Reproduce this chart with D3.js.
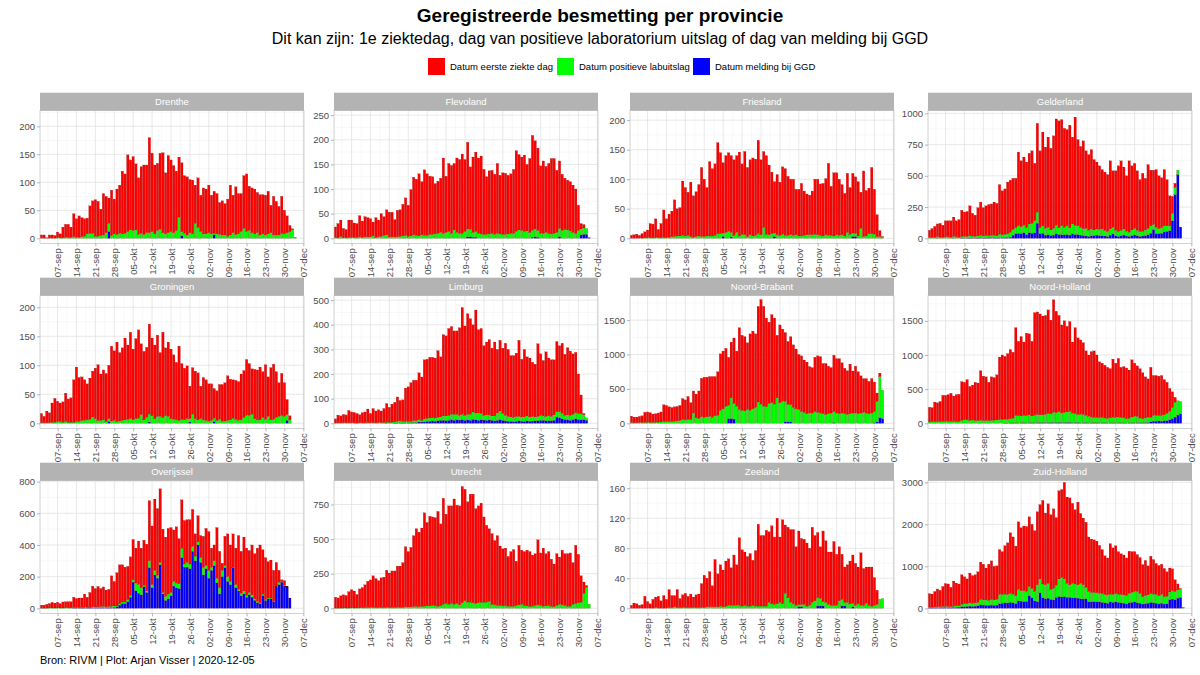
<!DOCTYPE html>
<html>
<head>
<meta charset="utf-8">
<script src="https://cdn.jsdelivr.net/npm/d3@7"></script>
<style>
  body { margin: 0; background: #fff; }
  text { font-family: "Liberation Sans", Arial, sans-serif; }
</style>
</head>
<body>
<svg id="grafiek" width="1200" height="675"></svg>
<script>
// Provincies in volgorde van de facetten
const provincies = ['Drenthe', 'Flevoland', 'Friesland', 'Gelderland', 'Groningen', 'Limburg',
  'Noord-Brabant', 'Noord-Holland', 'Overijssel', 'Utrecht', 'Zeeland', 'Zuid-Holland'];

// Legenda
const reeksNamen = ['Datum eerste ziekte dag', 'Datum positieve labuitslag', 'Datum melding bij GGD'];

// Y-as per provincie: bovenkant van de schaal en stapgrootte van de ticks
const yBoven = [228, 259, 216, 1021, 220, 518, 1855, 1868, 806, 922, 170, 3040];
const yStap = [50, 50, 50, 250, 50, 100, 500, 500, 200, 250, 40, 1000];

// Dagelijkse aantallen 1 sep t/m 4 dec 2020 (rood = eerste ziektedag, groen = labuitslag, blauw = melding)
const drentheRood = [6,6,1,6,6,5,10, 7,19,23,23,18,41,33, 38,34,31,28,49,58,65, 62,47,74,65,45,81,62, 81,86,112,106,137,125,132, 118,101,119,124,121,170,140, 123,120,136,143,109,138,128, 120,106,107,123,103,104,95, 96,68,88,65,82,80,85, 69,75,72,57,61,56,66, 89,67,85,72,68,94,103, 79,80,80,72,72,70,71, 76,49,69,60,51,66,42, 30,11,2,0];
const drentheGroen = [0,0,0,0,0,0,1, 1,1,2,2,2,3,2, 2,3,4,8,9,9,4, 4,5,6,10,15,5,8, 7,9,8,9,12,15,14, 15,7,9,7,10,10,12, 8,14,16,10,8,10,12, 10,14,38,8,9,6,10, 8,27,20,12,8,8,10, 8,3,8,7,6,6,4, 6,10,7,8,12,18,12, 14,10,8,10,6,8,6, 8,10,6,6,6,9,8, 10,12,15,2];
const drentheBlauw = [0,0,0,0,0,0,0, 0,0,0,0,0,0,0, 0,0,0,0,0,0,0, 0,0,0,0,12,0,0, 0,0,0,0,0,0,0, 0,0,0,0,0,0,0, 0,0,0,0,0,0,0, 0,0,0,4,0,0,0, 0,0,0,0,0,0,0, 0,6,0,0,0,0,0, 0,0,0,0,0,0,0, 0,0,0,0,0,0,0, 0,0,0,0,0,0,0, 0,0,0,0];

const flevolandRood = [21,29,33,19,17,35,35, 29,28,43,33,41,39,37, 28,40,34,46,38,51,50, 50,35,54,54,64,76,63, 94,117,114,126,108,133,125, 118,117,102,106,110,153,114, 138,138,135,151,150,161,146, 176,127,153,161,153,158,132, 117,128,128,122,142,119,125, 124,119,121,130,164,153,149, 155,135,150,193,179,167,137, 147,134,142,153,152,126,137, 114,104,101,100,96,90,51, 11,7,0,0];
const flevolandGroen = [2,1,4,1,1,2,2, 2,2,3,2,3,3,3, 5,2,3,4,6,7,3, 3,3,3,4,5,6,4, 5,7,6,5,7,6,6, 8,8,9,10,12,10,12, 14,10,17,12,10,10,14, 16,15,10,12,10,9,8, 8,9,10,8,10,9,8, 8,9,10,10,14,17,16, 14,15,12,14,16,14,10, 10,12,10,9,10,12,17, 16,18,17,15,12,10,16, 12,13,12,1];
const flevolandBlauw = [0,0,0,0,0,0,0, 0,0,0,0,0,0,0, 0,0,0,0,0,0,0, 0,0,0,0,0,0,0, 0,0,0,0,0,0,0, 0,0,0,0,0,0,0, 0,0,0,0,0,0,0, 3,3,2,2,0,0,0, 0,0,0,0,0,0,0, 0,0,0,0,0,0,0, 0,0,0,2,3,2,0, 0,0,0,0,0,0,3, 0,0,0,0,0,0,0, 7,8,8,1];

const frieslandRood = [5,6,7,5,8,10,13, 24,23,32,14,24,46,32, 39,43,62,46,48,92,82, 73,92,70,76,87,117,97, 82,126,114,121,154,137,119, 130,133,130,128,130,142,119, 141,117,127,132,129,158,127, 129,133,118,104,87,102,90, 114,113,100,94,95,77,79, 89,75,69,67,74,93,94, 87,89,95,122,83,107,105, 95,85,72,100,79,101,96, 92,61,111,77,77,112,76, 37,10,1,0];
const frieslandGroen = [0,0,0,0,0,1,1, 1,1,1,1,1,2,1, 2,3,3,4,4,5,4, 5,3,2,3,4,3,3, 4,4,4,5,8,8,6, 10,12,8,5,10,4,7, 6,3,6,4,5,8,6, 18,7,6,8,6,6,5, 7,5,5,6,5,6,4, 4,5,6,6,6,7,6, 5,4,6,5,5,4,6, 5,6,4,10,7,6,5, 4,17,3,4,8,8,7, 3,3,2,0];
const frieslandBlauw = [0,0,0,0,0,0,0, 0,0,0,0,0,0,0, 0,0,0,0,0,0,0, 0,0,0,0,0,0,0, 0,0,0,0,0,0,3, 0,0,2,0,0,0,0, 0,0,0,0,0,0,0, 0,0,0,0,3,0,0, 0,0,0,0,0,0,0, 0,0,0,0,0,0,0, 0,0,0,0,0,0,0, 0,0,0,0,0,3,3, 0,0,0,0,0,0,0, 0,0,0,0];

const gelderlandRood = [55,70,85,102,110,95,128, 128,130,154,128,140,208,195, 199,240,182,170,225,267,225, 238,249,252,265,260,396,352, 362,414,417,410,395,590,527, 545,525,565,580,460,710,615, 750,650,720,653,740,850,855, 850,792,770,820,695,865,690, 650,703,622,605,635,563,535, 508,475,467,455,545,450,475, 525,555,495,442,570,513,522, 475,415,462,413,512,445,435, 460,422,400,450,370,240,135, 30,0,0,0];
const gelderlandGroen = [10,8,10,12,10,10,12, 12,10,15,12,10,15,14, 15,18,16,14,18,20,18, 20,18,20,22,18,30,25, 28,30,40,45,50,60,55, 60,55,70,80,95,90,50, 60,55,60,45,55,70,55, 70,60,70,60,80,75,70, 60,55,60,50,55,45,50, 50,55,45,40,50,55,45, 40,45,50,40,35,45,50, 45,40,40,45,50,60,40, 55,40,45,50,45,40,60, 60,35,0,0];
const gelderlandBlauw = [0,0,0,1,0,0,0, 0,0,1,0,0,2,1, 1,2,2,1,2,3,2, 2,3,3,3,2,4,3, 5,6,8,25,35,40,38, 45,30,45,40,45,120,35, 40,25,30,22,25,35,30, 30,28,30,25,35,30,30, 25,22,18,15,20,22,25, 22,20,18,15,25,35,20, 15,20,25,18,15,22,28, 20,15,18,22,28,40,70, 35,38,40,50,55,60,140, 350,510,90,0];

const groningenRood = [16,11,20,17,33,41,35, 32,35,49,40,42,73,94, 76,75,70,62,71,79,87, 96,80,86,83,92,129,120, 137,118,125,141,128,149,122, 138,152,122,118,121,155,134, 127,140,110,147,117,128,120, 111,99,128,96,89,91,56, 80,82,81,56,73,70,64, 63,51,51,60,63,66,77, 70,66,67,67,79,81,96, 89,78,85,86,91,79,94, 68,90,95,79,58,72,58, 26,7,0,0];
const groningenGroen = [1,1,1,1,2,2,3, 3,2,3,2,2,2,3, 3,5,5,6,7,11,8, 5,5,6,3,5,4,5, 3,4,5,6,7,8,6, 8,9,15,6,10,14,13, 8,12,12,10,13,12,8, 7,6,5,7,6,8,6, 16,8,6,8,6,5,4, 5,6,5,7,4,4,5, 6,9,7,5,6,10,14, 14,16,8,6,6,10,7, 12,6,7,10,12,14,12, 10,6,0,0];
const groningenBlauw = [0,0,0,0,0,0,0, 0,0,0,0,0,0,0, 0,0,0,0,0,0,0, 0,0,0,0,3,0,0, 0,0,0,0,0,0,0, 0,0,0,0,0,2,0, 0,0,0,0,0,0,0, 0,0,0,0,0,0,2, 0,0,0,0,0,0,0, 0,3,0,0,0,0,0, 0,0,0,0,0,0,0, 0,0,0,0,0,0,0, 0,0,0,0,0,0,0, 5,0,0,0];

const limburgRood = [17,31,28,34,32,49,44, 42,39,33,41,44,55,38, 57,48,52,47,57,75,61, 73,79,99,83,88,136,140, 157,164,164,190,175,240,240, 246,246,243,270,244,330,325, 353,356,338,339,355,433,363, 409,388,354,418,338,345,282, 296,306,275,300,258,287,265, 293,272,249,250,257,309,234, 274,240,239,221,214,295,250, 225,262,234,230,224,285,268, 285,247,273,261,245,245,160, 76,5,0,0];
const limburgGroen = [1,2,2,2,2,3,2, 2,1,2,2,2,3,2, 3,2,3,3,3,4,4, 5,5,7,8,6,5,6, 6,8,8,10,8,12,12, 14,12,14,15,14,18,20, 20,22,25,22,20,22,20, 22,25,30,28,30,25,20, 22,20,18,20,30,35,28, 22,20,18,18,20,18,18, 18,20,18,18,16,18,20, 18,18,20,18,22,22,25, 22,18,20,20,22,25,25, 25,20,10,0];
const limburgBlauw = [0,0,0,0,0,0,0, 0,0,0,0,0,0,0, 0,0,0,0,0,1,0, 0,1,1,2,1,2,2, 2,3,3,5,5,6,8, 8,10,8,10,12,12,10, 12,15,12,14,13,15,12, 14,12,16,14,12,15,13, 12,14,12,10,12,15,12, 10,8,8,7,8,10,8, 8,10,8,9,10,10,12, 12,10,11,10,12,25,22, 18,15,14,12,15,18,15, 14,15,12,0];

const noordBrabantRood = [95,82,80,90,98,145,150, 143,120,125,132,145,240,235, 212,205,210,210,220,305,290, 330,245,320,345,400,560,580, 575,580,590,570,630,820,840, 840,700,810,950,800,1190,1090, 1080,970,1110,1130,1070,1390,1520, 1450,1290,1180,1280,1250,910,1130, 1050,1000,910,990,910,870,800, 810,760,750,675,660,790,820, 820,730,740,690,660,820,790, 800,730,660,635,720,610,680, 610,540,490,500,470,500,430, 120,50,0,0];
const noordBrabantGroen = [10,8,10,10,12,15,15, 12,15,15,18,20,30,25, 28,25,30,35,40,55,50, 60,55,150,80,70,95,90, 95,100,90,110,120,190,210, 250,190,300,230,250,200,190, 180,200,190,210,230,310,280, 250,240,290,300,280,370,300, 320,300,260,250,230,210,200, 170,160,140,150,150,170,160, 150,140,130,140,150,160,150, 140,150,140,130,140,150,150, 140,150,160,150,140,150,160, 300,600,410,0];
const noordBrabantBlauw = [0,0,0,0,0,0,0, 0,0,0,0,0,0,0, 0,0,0,0,0,0,0, 0,0,0,0,0,0,0, 0,0,0,0,0,0,0, 0,70,70,60,0,0,0, 0,0,0,0,0,0,0, 0,0,0,0,0,0,0, 0,20,20,20,0,0,0, 0,0,0,0,0,0,0, 0,0,0,0,0,10,0, 0,0,0,0,0,0,0, 0,0,0,0,0,0,10, 20,80,70,0];

const noordHollandRood = [215,205,285,275,290,382,380, 390,412,370,395,397,565,550, 590,495,512,560,548,725,650, 638,560,635,625,660,915,945, 917,959,1011,965,1284,1089,1162, 1072,1207,1187,1092,1500,1500,1475, 1445,1450,1515,1370,1648,1483,1408, 1288,1340,1253,1313,1040,1260,1120, 1087,1052,940,897,957,970,912, 817,792,772,749,719,852,792, 857,732,749,744,704,837,775, 740,722,672,600,558,730,585, 580,575,585,515,450,330,230, 70,0,0,0];
const noordHollandGroen = [20,25,25,25,30,28,30, 30,28,30,25,28,45,50, 50,45,48,40,42,45,40, 42,40,45,45,50,55,55, 60,58,65,70,110,105,100, 110,105,115,100,110,120,115, 115,120,135,130,150,145,160, 140,150,155,165,140,130,120, 125,120,110,95,85,80,80, 75,80,70,65,75,80,80, 85,80,75,60,70,85,95, 90,70,60,70,80,70,85, 90,80,85,90,110,130,160, 220,210,180,0];
const noordHollandBlauw = [0,0,0,0,0,0,0, 0,0,0,0,0,0,0, 0,0,0,0,0,0,0, 0,0,0,0,0,0,0, 3,3,4,5,6,6,8, 8,8,8,8,10,10,10, 10,10,10,10,12,12,12, 12,10,12,12,10,10,10, 8,8,10,8,8,10,8, 8,8,8,6,6,8,8, 8,8,6,6,6,8,10, 10,8,8,10,12,20,30, 30,35,30,35,40,50,70, 90,120,140,0];

const overijsselRood = [19,19,24,28,36,31,36, 28,38,39,39,39,65,58, 61,60,84,65,93,131,116, 129,114,123,106,109,192,155, 210,247,235,220,210,245,255, 220,275,250,285,295,380,370, 450,420,465,400,375,415,410, 325,355,285,305,275,270,280, 235,140,165,140,195,235,245, 120,100,320,230,45,185,270, 230,210,230,340,265,340,300, 265,315,285,335,365,280,265, 230,240,195,150,75,10,30, 0,0,0,0];
const overijsselGroen = [1,1,1,2,2,2,2, 2,2,3,3,3,4,3, 3,4,4,4,5,6,6, 6,8,8,6,8,8,10, 5,8,10,10,15,10,15, 50,55,45,10,10,45,20, 30,20,15,10,25,30,20, 30,30,30,60,20,30,30, 30,30,20,30,50,20,50, 20,30,30,40,40,15,30, 20,5,20,10,15,20,10, 15,15,10,10,5,10,5, 5,5,5,5,15,5,5, 5,0,0,0];
const overijsselBlauw = [0,0,0,0,0,0,0, 0,0,0,0,0,1,1, 1,1,2,1,2,3,3, 3,3,4,3,3,5,5, 10,20,30,30,40,70,165, 110,95,85,135,100,255,130, 210,190,275,90,50,60,80, 140,130,125,320,260,260,250, 360,300,400,290,210,250,190, 240,270,160,90,200,255,170, 150,255,130,110,80,90,70, 85,70,50,35,30,80,50, 60,60,40,135,150,165,140, 135,65,0,0];

const utrechtRood = [79,74,88,96,91,118,132, 123,97,137,146,165,189,199, 228,210,195,215,219,269,250, 264,263,297,298,322,435,400, 430,513,560,538,565,675,602, 647,640,637,685,592,765,645, 710,705,760,710,715,840,805, 725,780,785,685,700,715,615, 555,525,510,465,503,430,412, 417,360,395,410,320,430,390, 390,402,395,370,375,470,380, 420,377,390,340,308,375,340, 395,375,380,385,300,420,350, 190,80,15,0];
const utrechtGroen = [1,1,2,2,2,2,3, 2,3,3,4,5,6,6, 7,5,5,5,6,6,5, 6,7,8,7,8,10,10, 10,12,15,12,15,15,18, 18,20,18,15,18,30,35, 30,35,30,35,25,40,55, 45,45,40,35,40,45,45, 45,50,30,25,22,20,18, 18,15,15,15,20,25,30, 20,18,15,15,20,25,20, 15,18,20,15,12,20,30, 25,20,15,15,30,35,40, 45,110,150,30];
const utrechtBlauw = [0,0,0,0,0,0,0, 0,0,0,0,0,0,0, 0,0,0,0,0,0,0, 0,0,0,0,0,0,0, 0,0,0,0,0,0,0, 0,0,0,0,0,0,0, 0,0,0,0,0,0,0, 0,0,0,0,0,0,0, 0,0,0,0,0,0,0, 0,0,0,0,0,0,0, 0,0,0,0,0,0,0, 0,0,0,0,0,0,0, 0,0,0,0,0,0,0, 0,0,0,0];

const zeelandRood = [4,7,6,4,5,16,9, 6,12,14,16,10,17,12, 24,16,15,24,12,17,19, 15,18,14,17,18,32,43, 38,47,28,63,44,55,49, 60,62,50,67,54,90,75, 71,66,70,60,74,109,94, 94,101,94,104,90,114,87, 112,91,94,97,99,78,98, 88,87,84,76,100,87,87, 69,94,82,70,71,85,68, 72,60,47,50,57,64,56, 49,70,49,48,51,52,37, 19,0,0,0];
const zeelandGroen = [0,0,0,0,0,0,0, 0,0,1,0,0,0,0, 1,1,2,1,1,1,1, 1,1,1,1,1,1,1, 2,2,2,2,2,3,2, 3,4,4,4,4,4,3, 4,3,3,4,3,3,3, 3,3,8,6,5,6,8, 6,20,14,8,6,4,3, 3,5,3,4,8,10,11, 10,6,8,5,4,4,4, 10,9,5,8,6,5,4, 6,4,4,7,4,3,4, 5,12,13,0];
const zeelandBlauw = [0,0,0,0,0,0,0, 0,0,0,0,0,0,0, 0,0,0,0,0,0,0, 0,0,0,0,0,0,0, 0,0,0,0,0,0,0, 0,0,0,0,0,0,0, 0,0,0,0,0,0,0, 0,0,0,0,0,0,0, 0,0,0,0,0,0,2, 2,0,0,0,0,0,3, 3,3,0,0,0,0,0, 0,3,3,0,0,2,0, 0,0,0,0,0,0,0, 0,0,0,0];

const zuidHollandRood = [320,310,365,425,390,480,545, 540,460,600,540,520,700,640, 590,710,660,670,730,890,850, 760,860,920,800,790,1070,1020, 1150,1230,1440,1360,1180,1610,1500, 1540,1550,1660,1530,1450,1740,1770, 1990,1710,1890,1780,1890,1610,2100, 2100,2300,2050,2070,1900,1770,1970, 1660,1590,1550,1300,1270,1250,1230, 1140,1050,920,880,1200,1110,1140, 1010,970,950,900,1000,970,950, 880,850,760,840,690,890,820, 740,720,720,670,580,570,520, 280,140,10,0];
const zuidHollandGroen = [20,20,23,23,25,25,27, 25,25,30,40,35,60,70, 65,80,75,80,85,130,125, 130,120,135,130,145,220,210, 210,205,220,210,190,270,250, 260,235,220,220,220,400,330, 330,330,360,240,280,290,420, 460,420,340,300,350,330,320, 370,340,270,240,230,220,220, 210,210,200,200,190,190,200, 200,200,200,190,230,240,250, 270,240,180,190,200,210,210, 210,190,210,180,180,190,200, 200,200,200,30];
const zuidHollandBlauw = [10,10,12,12,15,15,18, 15,15,20,20,25,40,40, 45,50,45,50,55,80,75, 70,70,75,70,75,110,120, 130,125,140,130,110,180,170, 160,165,300,250,180,160,370, 250,230,240,210,200,260,280, 270,280,260,260,250,250,240, 230,220,230,160,150,160,150, 150,140,130,120,150,140,150, 140,130,120,110,130,140,150, 130,120,100,110,120,140,130, 120,110,120,100,110,200,220, 200,240,260,0];

const reeksen = [
  [drentheRood, drentheGroen, drentheBlauw],
  [flevolandRood, flevolandGroen, flevolandBlauw],
  [frieslandRood, frieslandGroen, frieslandBlauw],
  [gelderlandRood, gelderlandGroen, gelderlandBlauw],
  [groningenRood, groningenGroen, groningenBlauw],
  [limburgRood, limburgGroen, limburgBlauw],
  [noordBrabantRood, noordBrabantGroen, noordBrabantBlauw],
  [noordHollandRood, noordHollandGroen, noordHollandBlauw],
  [overijsselRood, overijsselGroen, overijsselBlauw],
  [utrechtRood, utrechtGroen, utrechtBlauw],
  [zeelandRood, zeelandGroen, zeelandBlauw],
  [zuidHollandRood, zuidHollandGroen, zuidHollandBlauw]
];

// Datums: 1 sep t/m 4 dec 2020
const dagen = d3.timeDay.range(new Date(2020, 8, 1), new Date(2020, 11, 5));

// Nederlandse maandnamen voor de x-as
const nl = d3.timeFormatLocale({
  dateTime: '%a %e %B %Y %X', date: '%d-%m-%Y', time: '%H:%M:%S', periods: ['AM', 'PM'],
  days: ['zondag', 'maandag', 'dinsdag', 'woensdag', 'donderdag', 'vrijdag', 'zaterdag'],
  shortDays: ['zo', 'ma', 'di', 'wo', 'do', 'vr', 'za'],
  months: ['januari', 'februari', 'maart', 'april', 'mei', 'juni', 'juli', 'augustus', 'september', 'oktober', 'november', 'december'],
  shortMonths: ['jan', 'feb', 'mrt', 'apr', 'mei', 'jun', 'jul', 'aug', 'sep', 'okt', 'nov', 'dec']
});
const datumFormat = nl.format('%d-%b');

// Kleuren
const kleuren = { rood: '#FF0000', groen: '#00FF00', blauw: '#0000FF' };

// Layout
const kolomLinks = [40, 334, 630, 928];
const paneelBreedte = 264;
const rijBoven = [92.7, 277.7, 462.7];
const stripHoogte = 18;
const nulOffset = 145.6;   // afstand strip-bovenkant tot y = 0
const grijs = '#B3B3B3';
const tekstGrijs = '#4D4D4D';

const svg = d3.select('#grafiek');

// Titel en ondertitel
svg.append('text')
  .attr('x', 600).attr('y', 22)
  .attr('text-anchor', 'middle')
  .style('font-size', '19px').style('font-weight', 'bold')
  .text('Geregistreerde besmetting per provincie');

svg.append('text')
  .attr('x', 600).attr('y', 44)
  .attr('text-anchor', 'middle')
  .style('font-size', '16px')
  .text('Dit kan zijn: 1e ziektedag, dag van positieve laboratorium uitslag of dag van melding bij GGD');

// Legenda
const legendaX = [428, 557, 693];
const legendaKleur = [kleuren.rood, kleuren.groen, kleuren.blauw];
const legenda = svg.append('g').attr('id', 'legend');
reeksNamen.forEach((naam, i) => {
  legenda.append('rect')
    .attr('x', legendaX[i]).attr('y', 58)
    .attr('width', 17).attr('height', 17)
    .attr('fill', legendaKleur[i]);
  legenda.append('text')
    .attr('x', legendaX[i] + 22).attr('y', 69.5)
    .style('font-size', '9.5px')
    .text(naam);
});

// Bron
svg.append('text')
  .attr('x', 40).attr('y', 664)
  .style('font-size', '11px')
  .text('Bron: RIVM | Plot: Arjan Visser | 2020-12-05');

const stapel = d3.stack().keys(['blauw', 'groen', 'rood']);

provincies.forEach((provincie, p) => {
  const kol = p % 4;
  const rij = Math.floor(p / 4);
  const links = kolomLinks[kol];
  const rechts = links + paneelBreedte;
  const strip = rijBoven[rij];
  const boven = strip + stripHoogte;
  const nul = strip + nulOffset;
  const onder = nul + 5;

  const [rood, groen, blauw] = reeksen[p];
  const rijen = dagen.map((d, i) => ({ datum: d, rood: rood[i] || 0, groen: groen[i] || 0, blauw: blauw[i] || 0 }));

  const x = d3.scaleTime()
    .domain([new Date(2020, 7, 31, 12), new Date(2020, 11, 7, 6)])
    .range([links, rechts]);
  const y = d3.scaleLinear()
    .domain([0, yBoven[p]])
    .range([nul, boven]);

  const g = svg.append('g').attr('class', 'paneel');

  // Achtergrond
  g.append('rect')
    .attr('x', links).attr('y', boven)
    .attr('width', paneelBreedte).attr('height', onder - boven)
    .attr('fill', '#fff');

  // Rasterlijnen
  const xTicks = d3.timeMonday.range(new Date(2020, 8, 7), new Date(2020, 11, 8));
  const xMinor = xTicks.map(d => d3.timeHour.offset(d, -84)).concat([d3.timeHour.offset(xTicks[xTicks.length - 1], 84)])
    .filter(d => x(d) >= links && x(d) <= rechts);
  const yTicks = d3.range(0, yBoven[p] + 0.001, yStap[p]);
  const yMinor = d3.range(yStap[p] / 2, yBoven[p], yStap[p]);

  g.selectAll('.xminor').data(xMinor).enter().append('line')
    .attr('x1', d => x(d)).attr('x2', d => x(d))
    .attr('y1', boven).attr('y2', onder)
    .attr('stroke', '#EDEDED').attr('stroke-width', 0.4);
  g.selectAll('.yminor').data(yMinor).enter().append('line')
    .attr('x1', links).attr('x2', rechts)
    .attr('y1', d => y(d)).attr('y2', d => y(d))
    .attr('stroke', '#EDEDED').attr('stroke-width', 0.4);
  g.selectAll('.xgrid').data(xTicks).enter().append('line')
    .attr('x1', d => x(d)).attr('x2', d => x(d))
    .attr('y1', boven).attr('y2', onder)
    .attr('stroke', '#E0E0E0').attr('stroke-width', 0.7);
  g.selectAll('.ygrid').data(yTicks).enter().append('line')
    .attr('x1', links).attr('x2', rechts)
    .attr('y1', d => y(d)).attr('y2', d => y(d))
    .attr('stroke', '#E0E0E0').attr('stroke-width', 0.7);

  // Gestapelde staven
  const lagen = stapel(rijen);
  const breedte = (x(new Date(2020, 8, 2)) - x(new Date(2020, 8, 1))) * 0.9;
  g.selectAll('.laag').data(lagen).enter().append('g')
    .attr('fill', d => kleuren[d.key])
    .selectAll('rect').data(d => d.filter(s => s[1] > s[0])).enter().append('rect')
    .attr('x', d => x(d.data.datum) - breedte / 2)
    .attr('width', breedte)
    .attr('y', d => y(d[1]))
    .attr('height', d => y(d[0]) - y(d[1]))
    .attr('stroke', '#600000').attr('stroke-width', 0.15);

  // Paneelrand
  g.append('rect')
    .attr('x', links).attr('y', boven)
    .attr('width', paneelBreedte).attr('height', onder - boven)
    .attr('fill', 'none').attr('stroke', grijs).attr('stroke-width', 0.6);

  // Strip met naam
  g.append('rect')
    .attr('x', links).attr('y', strip)
    .attr('width', paneelBreedte).attr('height', stripHoogte)
    .attr('fill', grijs);
  g.append('text')
    .attr('x', links + paneelBreedte / 2).attr('y', strip + stripHoogte / 2)
    .attr('dy', '0.35em').attr('text-anchor', 'middle')
    .attr('fill', '#fff').style('font-size', '9.5px')
    .text(provincie);

  // X-as
  const ejeX = d3.axisBottom(x).tickValues(xTicks).tickFormat(datumFormat).tickSize(3).tickPadding(2);
  const gx = g.append('g').attr('transform', `translate(0, ${onder})`).call(ejeX);
  gx.select('.domain').remove();
  gx.selectAll('.tick line').attr('stroke', grijs);
  gx.selectAll('.tick text')
    .attr('fill', tekstGrijs).style('font-size', '9.5px')
    .attr('transform', 'rotate(-90)')
    .attr('text-anchor', 'end')
    .attr('x', -5).attr('y', 0).attr('dy', '0.35em');

  // Y-as
  const ejeY = d3.axisLeft(y).tickValues(yTicks).tickFormat(d3.format('d')).tickSize(3).tickPadding(2);
  const gy = g.append('g').attr('transform', `translate(${links}, 0)`).call(ejeY);
  gy.select('.domain').remove();
  gy.selectAll('.tick line').attr('stroke', grijs);
  gy.selectAll('.tick text').attr('fill', tekstGrijs).style('font-size', '9.5px');
});
</script>
</body>
</html>
